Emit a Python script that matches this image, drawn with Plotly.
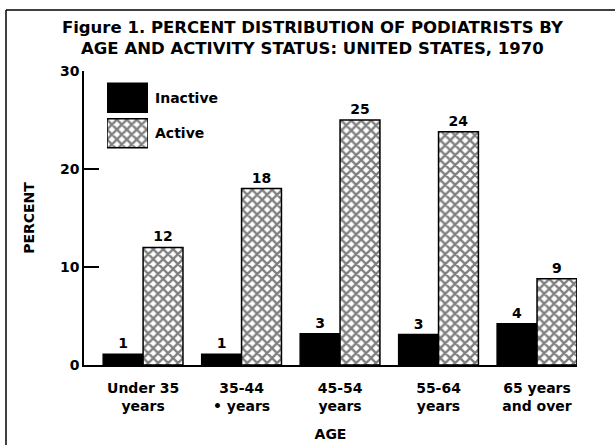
import plotly.graph_objects as go

# ---- data ----
age_groups = ["Under 35<br>years", "35-44<br>• years", "45-54<br>years", "55-64<br>years", "65 years<br>and over"]
series_names = ["Inactive", "Active"]
inactive_pct = [1.1, 1.1, 3.2, 3.1, 4.2]
active_pct = [12.0, 18.0, 25.0, 23.8, 8.8]
y_ticks = [0, 10, 20, 30]

FONT = "DejaVu Sans"
W, H = 615, 445
ML, MR, MT, MB = 84, 38, 71, 80
PW, PH = W - ML - MR, H - MT - MB

def px_x(p):
    return (p - ML) / PW

def px_y(p):
    return (H - MB - p) / PH

def f(size, weight="bold"):
    return dict(family=FONT, size=size, color="black", weight=weight)

styles = {
    "Inactive": dict(color="black", line=dict(color="black", width=1.5)),
    "Active": dict(color="white", line=dict(color="black", width=1.5),
                   pattern=dict(shape="x", size=7, solidity=0.55,
                                fgcolor="black", bgcolor="white", fillmode="overlay")),
}

fig = go.Figure()
for name, vals in zip(series_names, [inactive_pct, active_pct]):
    fig.add_trace(go.Bar(
        x=age_groups, y=vals, name=name, marker=styles[name],
        texttemplate="%{y:.0f}", textposition="outside", cliponaxis=False,
        textfont=f(14),
        showlegend=False,
    ))

# legend key drawn on its own small axes
for name in series_names[::-1]:
    fig.add_trace(go.Bar(
        y=[name], x=[1], orientation="h", marker=styles[name],
        xaxis="x2", yaxis="y2", showlegend=False, hoverinfo="skip",
    ))

fig.update_layout(
    width=W, height=H,
    margin=dict(l=ML, r=MR, t=MT, b=MB),
    paper_bgcolor="white", plot_bgcolor="white",
    barmode="group", bargap=0.19, bargroupgap=0,
    font=f(14),
    title=dict(
        text="Figure 1. PERCENT DISTRIBUTION OF PODIATRISTS BY<br>AGE AND ACTIVITY STATUS: UNITED STATES, 1970",
        x=0.508, xref="container", xanchor="center",
        y=1 - 33 / H, yref="container", yanchor="top",
        font=f(16.5),
    ),
    xaxis=dict(
        type="category", range=[-0.6, 4.406], automargin=False,
        showline=True, linecolor="black", linewidth=1.5,
        ticks="", showgrid=False, zeroline=False,
        tickfont=f(14), ticklabelstandoff=9,
        title=dict(text="AGE", font=f(14), standoff=16),
    ),
    yaxis=dict(
        range=[0, 30], tickvals=y_ticks, automargin=False,
        showline=True, linecolor="black", linewidth=1.5,
        ticks="inside", ticklen=15, tickwidth=1.5, tickcolor="black",
        showgrid=False, zeroline=False,
        tickfont=f(14),
        title=dict(text="PERCENT", font=f(14), standoff=22),
    ),
    xaxis2=dict(domain=[px_x(107), px_x(148)], range=[0, 1], anchor="y2",
                visible=False, fixedrange=True),
    yaxis2=dict(domain=[px_y(151), px_y(80)], anchor="x2", side="right",
                showline=False, ticks="", showgrid=False, zeroline=False,
                automargin=False, tickfont=f(14), ticklabelstandoff=6),
    shapes=[
        dict(type="line", xref="paper", yref="paper",
             x0=px_x(6), x1=px_x(6), y0=px_y(10), y1=px_y(H),
             line=dict(color="black", width=1.5)),
        dict(type="line", xref="paper", yref="paper",
             x0=px_x(6), x1=px_x(W), y0=px_y(10), y1=px_y(10),
             line=dict(color="black", width=1.5)),
    ],
)

fig.write_html("out.html", config={"displayModeBar": False},
               post_script="document.body.style.margin='0';")
